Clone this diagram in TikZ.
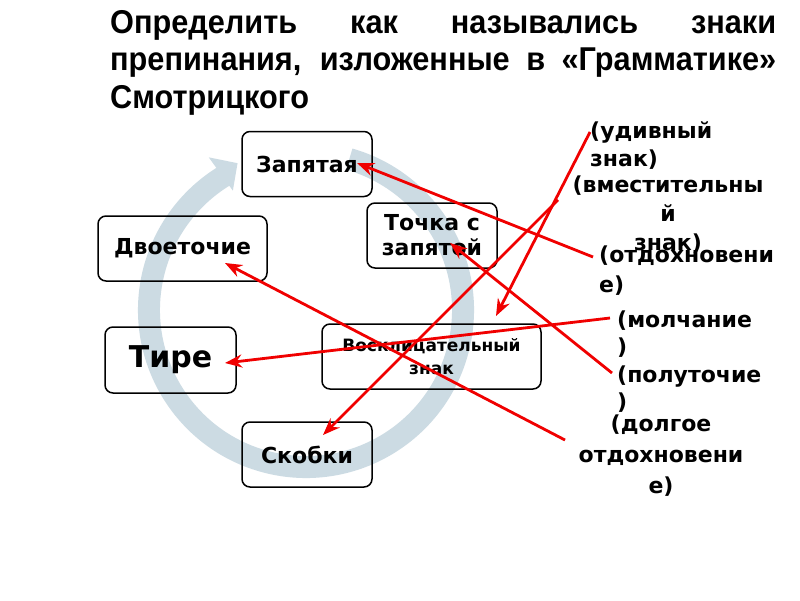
\documentclass[tikz,border=0pt]{standalone}
\usepackage{fontspec}
\setmainfont{DejaVu Sans}
\newfontfamily\titlefont[FakeStretch=0.93]{Liberation Sans}
\usetikzlibrary{arrows.meta}
\definecolor{ringc}{RGB}{204,219,227}
\definecolor{arrred}{RGB}{240,0,0}
\tikzset{
  box/.style={draw=black, line width=1.5pt, rounded corners=8pt, minimum width=130pt,
    minimum height=65pt, align=center, inner sep=2pt,
    font=\bfseries\fontsize{22}{25}\selectfont},
  lbl/.style={inner sep=0pt, font=\bfseries\fontsize{22}{28}\selectfont},
  redarr/.style={draw=arrred, line width=2.8pt, -{Stealth[length=17pt,width=13pt]}}
}
\begin{document}
\begin{tikzpicture}[x=1pt,y=-1pt]
\useasboundingbox[fill=white] (0,0) rectangle (800,600);
% title
\node[anchor=north west, inner sep=0pt] (title) at (110,10)
  {\parbox{666pt}{\titlefont\bfseries\fontsize{33}{37.5}\selectfont
   Определить как назывались знаки\linebreak
   препинания, изложенные в «Грамматике»\linebreak
   Смотрицкого}};
% ring arrow
\begin{scope}[shift={(306,310)}]
  \draw[ringc, line width=22pt] (-74:157) arc[start angle=-74, end angle=239, radius=157];
  \fill[ringc] (237.5:181) -- (245:162) -- (238.5:140) -- cycle;
\end{scope}
% boxes
\node[box] (zap) at (307,164) {Запятая};
\node[box] (tsz) at (432,235.5) {Точка с\\запятой};
\node[box, minimum width=169pt] (dvo) at (182.5,248.5) {Двоеточие};
\node[box, minimum width=131pt, minimum height=66pt, font=\bfseries\fontsize{30}{32}\selectfont] (tir) at (170.5,360) {Тире};
\node[box, minimum width=219pt, font=\bfseries\fontsize{17}{23}\selectfont] (vos) at (431.5,356.5) {Восклицательный\\знак};
\node[box] (sko) at (307,454.5) {Скобки};
% labels
\node[lbl, anchor=north west, align=left] (l1) at (590,121) {(удивный\\знак)};
\node[lbl, anchor=north, align=center, font=\bfseries\fontsize{22}{29}\selectfont] (l2) at (668,176) {(вместительны\\й\\знак)};
\node[lbl, anchor=north west, align=left, font=\bfseries\fontsize{22}{30}\selectfont] (l3) at (599,246) {(отдохновени\\е)};
\node[lbl, anchor=north west, align=left, font=\bfseries\fontsize{22}{27}\selectfont] (l4) at (617,311) {(молчание\\)};
\node[lbl, anchor=north west, align=left, font=\bfseries\fontsize{22}{27}\selectfont] (l5) at (617,366) {(полуточие\\)};
\node[lbl, anchor=north, align=center, font=\bfseries\fontsize{22}{31}\selectfont] (l6) at (661,415) {(долгое\\отдохновени\\е)};
% arrow ends
\coordinate (s1) at (590,132); \coordinate (t1) at (496,316);
\coordinate (s2) at (558,200); \coordinate (t2) at (323,435);
\coordinate (s3) at (593,257); \coordinate (t3) at (357,163);
\coordinate (s4) at (610,318); \coordinate (t4) at (225,363);
\coordinate (s5) at (612,373); \coordinate (t5) at (450,243);
\coordinate (s6) at (565,440); \coordinate (t6) at (225,263);
\draw[redarr] (s1) -- (t1);
\draw[redarr] (s2) -- (t2);
\draw[redarr] (s3) -- (t3);
\draw[redarr] (s4) -- (t4);
\draw[redarr] (s5) -- (t5);
\draw[redarr] (s6) -- (t6);
\end{tikzpicture}
\end{document}
